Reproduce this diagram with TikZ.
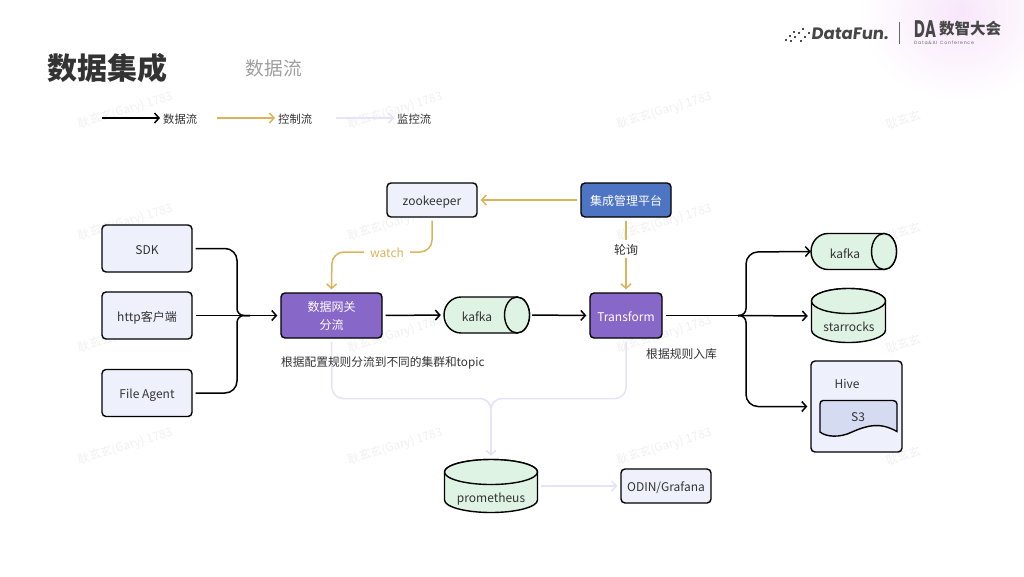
\documentclass[tikz,border=0pt]{standalone}
\usepackage{fontspec}
\setmainfont{Noto Sans CJK SC}
\newfontfamily\logofont[FakeSlant=.12]{Poppins}
\newfontfamily\dafont{Poppins}
\usetikzlibrary{arrows.meta,calc}
\definecolor{boxfill}{HTML}{EEF1FB}
\definecolor{purp}{HTML}{8767C8}
\definecolor{blu}{HTML}{4E75C3}
\definecolor{grn}{HTML}{DFF3E4}
\definecolor{gold}{HTML}{D9B45B}
\definecolor{lav}{HTML}{E5E3F9}
\definecolor{wm}{HTML}{F1F1F1}
\definecolor{inkc}{HTML}{333333}
\definecolor{s3c}{HTML}{D5DCF2}
\definecolor{glow}{HTML}{F8E6FB}
\newcommand{\fs}[1]{\fontsize{#1}{#1}\selectfont}
\tikzset{
 x=1pt,y=-1pt,
 tx/.style={text height=13pt,text depth=1.4pt},
 bx/.style={draw=black,line width=1.4pt,rounded corners=4pt,inner sep=0pt,align=center,text=inkc,font=\fs{12},tx},
 light/.style={bx,fill=boxfill},
 purple/.style={bx,fill=purp,text=white},
 blue/.style={bx,fill=blu,text=white},
 flow/.style={line width=1.5pt,draw=black,-{Straight Barb[length=4.5pt,width=10pt,line width=1.5pt]},shorten <=3pt,shorten >=3pt},
 flowplain/.style={line width=1.5pt,draw=black,shorten <=3pt},
 ctrl/.style={flow,draw=gold,-{Straight Barb[length=4.5pt,width=10pt,line width=1.5pt,color=gold]}},
 mon/.style={flow,draw=lav,-{Straight Barb[length=4.5pt,width=10pt,line width=1.5pt,color=lav]}},
 monplain/.style={line width=1.5pt,draw=lav,shorten <=3pt},
 shp/.style={draw=black,line width=1.4pt,fill=grn},
 anch/.style={inner sep=0pt,minimum width=#1},
 lab/.style={font=\fs{12},text=inkc,inner sep=0pt,tx},
 wmk/.style={text=wm,font=\fs{11.8},rotate=17,anchor=west,inner sep=0pt},
}
\begin{document}
\begin{tikzpicture}
\useasboundingbox (0,0) rectangle (1024,576);
\begin{scope}
\clip (0,0) rectangle (1024,576);
\fill[white] (0,0) rectangle (1024,576);
\shade[inner color=glow,outer color=white] (960,12) ellipse [x radius=100,y radius=90];
\end{scope}
% watermarks
\foreach \yy in {125,237,349,461}{
 \node[wmk] at (78,\yy) {耿玄玄(Gary) 1783};
 \node[wmk] at (348,\yy) {耿玄玄(Gary) 1783};
 \node[wmk] at (617,\yy) {耿玄玄(Gary) 1783};
 \node[wmk] at (886,\yy) {耿玄玄};
}
% header
\node[anchor=center,text=inkc,font=\fs{30}\bfseries,inner sep=0pt] (title) at (107,68) {数据集成};
\node[text=black!38,font=\fs{18.7},inner sep=0pt] (sub) at (274,68) {数据流};
% logo
\foreach \p/\q in {786/40,790/36,794/32,791/41,795/37,799/33,803/29,801/41,805/37,809/33}{
 \fill[black!70] (\p-1.3,\q-1.3) rectangle (\p+1.3,\q+1.3);
}
\node[inner sep=0pt,anchor=west,text=black!72,font=\logofont\bfseries\fs{16.5}] (df) at (811,34) {DataFun.};
\draw[black!60,line width=.8pt] (899,22) -- (899,44);
\node[inner sep=0pt,anchor=west,text=black!72,font=\dafont\bfseries\fs{24}] (da) at (914,29) {\scalebox{.62}[1]{DA}};
\node[inner sep=0pt,anchor=west,text=black!72,font=\bfseries\fs{15.5}] (szdh) at (939,29) {数智大会};
\node[inner sep=0pt,anchor=west,text=black!60,font=\dafont\fs{4.6}] (conf) at (914,42.5) {D\,a\,t\,a\,\&\,A\,I\ \ C\,o\,n\,f\,e\,r\,e\,n\,c\,e};
% legend
\coordinate (l1) at (99,118); \coordinate (l2) at (214,118); \coordinate (l3) at (333,118);
\node[lab,font=\fs{11.3},anchor=west] (t1) at (163,118) {数据流};
\node[lab,font=\fs{11.3},anchor=west] (t2) at (278,118) {控制流};
\node[lab,font=\fs{11.3},anchor=west] (t3) at (397,118) {监控流};
\draw[flow] (l1) -- (t1.west);
\draw[ctrl] (l2) -- (t2.west);
\draw[mon] (l3) -- (t3.west);
% boxes
\node[light,minimum width=90pt,minimum height=47pt] (sdk) at (147,248.5) {SDK};
\node[light,minimum width=90pt,minimum height=47pt] (http) at (147,315.5) {http客户端};
\node[light,minimum width=90pt,minimum height=47pt] (file) at (147,393) {File Agent};
\node[purple,text height=,text depth=,minimum width=101pt,minimum height=45pt] (gw) at (331.5,315.5) {数据网关\\[6pt]分流};
\node[light,minimum width=90pt,minimum height=34pt] (zoo) at (432,200) {zookeeper};
\node[blue,minimum width=90pt,minimum height=34pt] (mgmt) at (626,200) {集成管理平台};
\node[purple,minimum width=72pt,minimum height=45pt] (tr) at (626,315.5) {Transform};
\node[light,minimum width=90pt,minimum height=34pt] (odin) at (666,486) {ODIN/Grafana};
% mid kafka cylinder
\draw[shp] (517,297) -- (461,297) arc[start angle=270,end angle=90,x radius=17,y radius=18] -- (517,333) arc[start angle=90,end angle=-90,x radius=12.5,y radius=18] -- cycle;
\draw[shp] (517,315) ellipse [x radius=12.5,y radius=18];
\node[anch=85pt,minimum height=36pt] (kafka) at (486.5,315) {};
\node[lab] (kafkat) at (477,316) {kafka};
% right kafka
\draw[shp] (884,233.5) -- (828,233.5) arc[start angle=270,end angle=90,x radius=17,y radius=18] -- (884,269.5) arc[start angle=90,end angle=-90,x radius=12.5,y radius=18] -- cycle;
\draw[shp] (884,251.5) ellipse [x radius=12.5,y radius=18];
\node[anch=86pt,minimum height=36pt] (kafkar) at (854,251.5) {};
\node[lab] (kafkart) at (845,252.5) {kafka};
% starrocks
\draw[shp] (811.5,301) -- (811.5,330) arc[start angle=180,end angle=0,x radius=37,y radius=12.5] -- (885.5,301) arc[start angle=0,end angle=-180,x radius=37,y radius=12.5] -- cycle;
\draw[shp] (848.5,301) ellipse [x radius=37,y radius=12.5];
\node[anch=75pt,minimum height=55pt] (star) at (848.5,316) {};
\node[lab] (start) at (849,326) {starrocks};
% prometheus
\draw[shp] (444.5,472) -- (444.5,500) arc[start angle=180,end angle=0,x radius=46.5,y radius=12.5] -- (537.5,472) arc[start angle=0,end angle=-180,x radius=46.5,y radius=12.5] -- cycle;
\draw[shp] (491,472) ellipse [x radius=46.5,y radius=12.5];
\node[anch=94pt,minimum height=54pt] (prom) at (491,486) {};
\node[lab] (promt) at (491,497) {prometheus};
% hive
\node[light,minimum width=91pt,minimum height=91pt] (hive) at (856.5,406.5) {};
\node[lab] (hivet) at (847,383) {Hive};
\draw[draw=black,line width=1.4pt,fill=s3c] (823,400.5) -- (893,400.5) to[out=0,in=90] (897,404) -- (897,431.5) .. controls (880,422) and (868,425) .. (852,432) .. controls (840,438) and (826,437) .. (820,432) -- (820,404) to[out=90,in=180] (823,400.5) -- cycle;
\node[lab] (s3) at (858,416) {S3};
% data flows
\coordinate (j1) at (250,315.5);
\coordinate (j2) at (738,315.5);
\draw[flowplain,rounded corners=12pt] (sdk.east) -- (237,248.5) [rounded corners=7pt] -- (237,315.5) -- (j1);
\draw[flowplain,rounded corners=12pt] (file.east) -- (237,393) [rounded corners=7pt] -- (237,315.5) -- (j1);
\draw[flow] (http.east) -- (gw.west);
\draw[flow] (gw.east) -- (kafka.west);
\draw[flow] (kafka.east) -- (tr.west);
\draw[flowplain] (tr.east) -- (j2);
\draw[line width=1.5pt,-{Straight Barb[length=4.5pt,width=10pt,line width=1.5pt]},rounded corners=7pt] (j2) -- (746,315.5) [rounded corners=12pt] -- (746,252) -- (kafkar.west);
\draw[flow,shorten <=0pt] (j2) -- (star.west);
\draw[line width=1.5pt,-{Straight Barb[length=4.5pt,width=10pt,line width=1.5pt]},rounded corners=7pt,shorten >=3pt] (j2) -- (746,315.5) [rounded corners=12pt] -- (746,406.5) -- (hive.west);
% control flows
\draw[ctrl,rounded corners=12pt] (zoo.south) -- (432,252) -- (332,252) -- (gw.north);
\node[fill=white,inner sep=0pt,minimum width=46pt,minimum height=14pt,text=gold,font=\fs{12},tx] (watch) at (387,252) {watch};
\draw[ctrl] (mgmt.west) -- (zoo.east);
\draw[ctrl] (mgmt.south) -- (tr.north);
\node[fill=white,inner sep=2pt,text=inkc,font=\fs{12},tx] (poll) at (626,249) {轮询};
% monitoring flows
\coordinate (j3) at (491,418);
\draw[monplain,rounded corners=11pt] (gw.south) -- (332,398.5) -- (491,398.5) [rounded corners=8pt] -- (j3);
\draw[monplain,rounded corners=11pt] (tr.south) -- (626,398.5) -- (491,398.5) [rounded corners=8pt] -- (j3);
\draw[mon,shorten <=0pt] (j3) -- (prom.north);
\draw[mon] (prom.east) -- (odin.west);
% notes
\node[lab,anchor=west,font=\fs{11.7}] (n1) at (281,361) {根据配置规则分流到不同的集群和topic};
\node[lab,anchor=west,font=\fs{11.8}] (n2) at (646,353) {根据规则入库};
\end{tikzpicture}
\end{document}
